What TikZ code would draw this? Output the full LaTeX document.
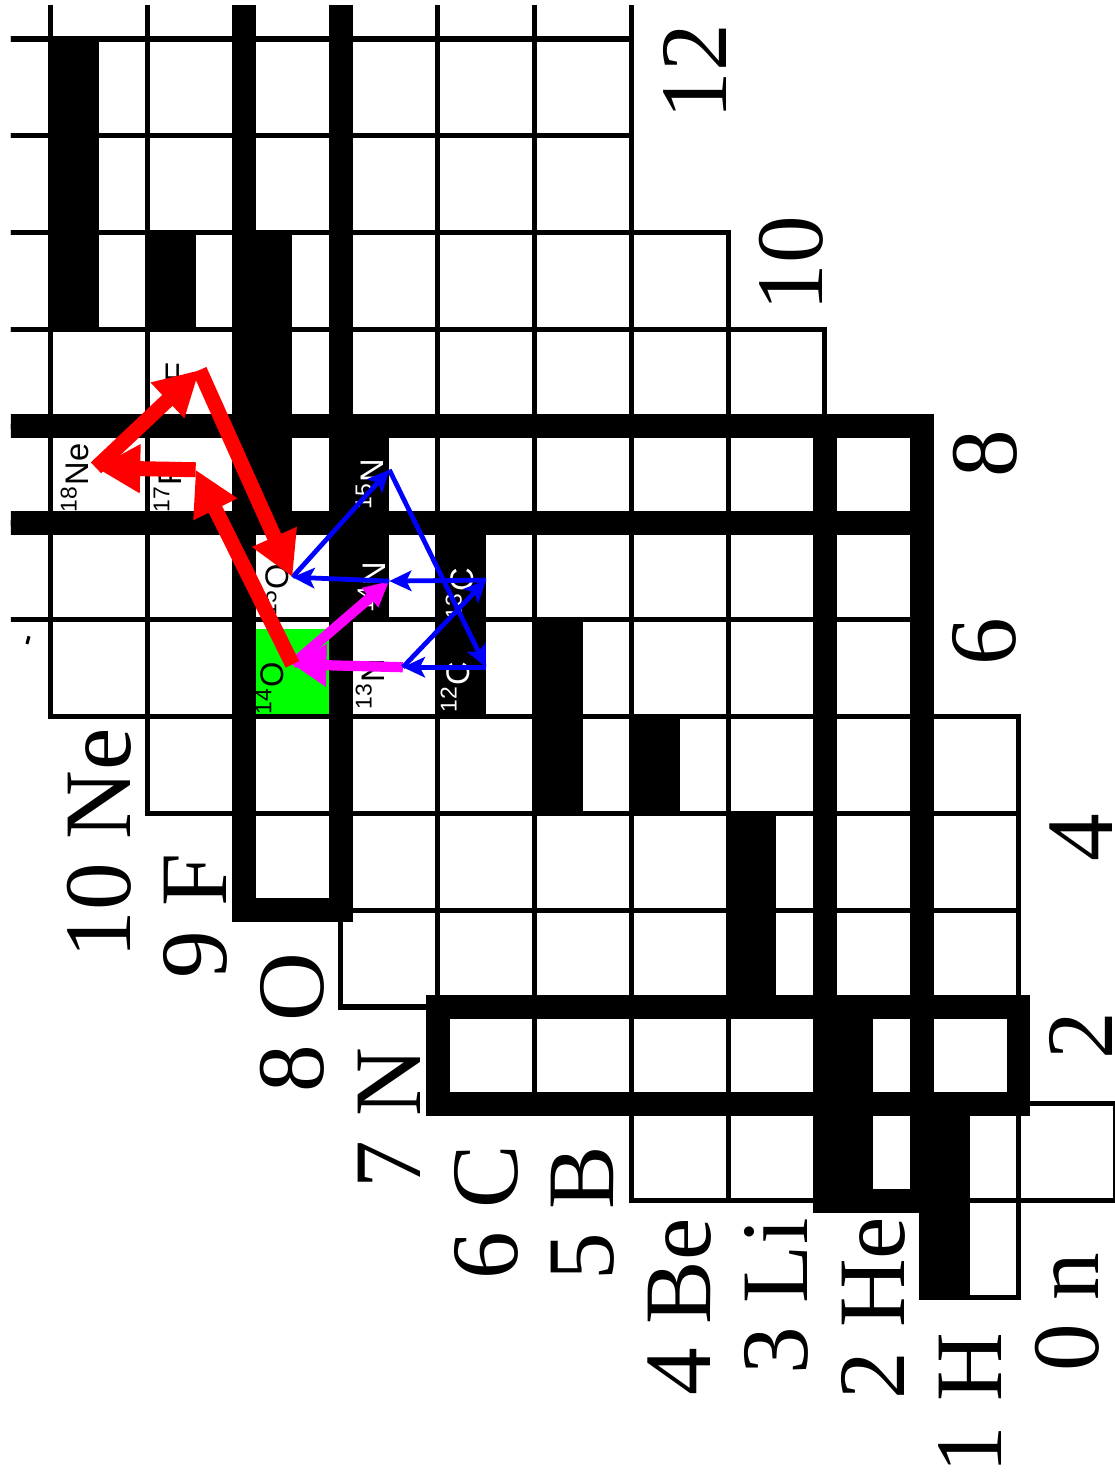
\documentclass[tikz,border=0pt]{standalone}
\usepackage{fontspec}
\setmainfont{Liberation Serif}
\newfontfamily\isofont{Liberation Sans}
\usetikzlibrary{arrows.meta}
\definecolor{cno-red}{RGB}{255,0,0}
\definecolor{cno-blue}{RGB}{0,0,255}
\definecolor{cno-magenta}{RGB}{255,0,255}
\definecolor{cno-green}{RGB}{0,255,0}

\tikzset{
  cellbox/.style={draw=black, line width=1.5pt},
  magicline/.style={draw=black, line width=7pt},
  isolabel/.style={rotate=90, anchor=north west, inner sep=0pt, font=\isofont\fontsize{9.6}{10}\selectfont},
  elemlabel/.style={rotate=90, inner sep=0pt, font=\fontsize{28}{30}\selectfont},
  redarrow/.style={draw=cno-red, line width=4.4pt, -{Triangle[length=13pt,width=13.5pt]}},
  bluearrow/.style={draw=cno-blue, line width=1.4pt, -{Stealth[length=6.5pt,width=6pt,inset=1.5pt]}},
  pinkarrow/.style={draw=cno-magenta, line width=3pt}
}

\begin{document}
\begin{tikzpicture}[x=-1cm, y=1cm]
  \useasboundingbox (11.5217,13.4029) rectangle (0.0031,-1.8864);

  \begin{scope}
    \clip (11.408,13.351) rectangle (-0.5,-1.8);
    % stable nuclides
    \foreach \z/\n in {1/0,1/1,2/1,2/2,3/3,3/4,4/5,5/5,5/6,6/6,6/7,7/7,7/8,8/8,8/9,8/10,9/10,10/10,10/11,10/12,11/12}
      \fill[black] (\z+0.5,\n) rectangle (\z+1,\n+1);
    % 14O
    \fill[cno-green] (8,6) rectangle (9,6.9);
    % cells, row by row
    \foreach \n/\zmin/\zmax in {0/1/1,1/0/4,2/1/6,3/1/7,4/1/8,5/1/9,6/2/10,7/2/11,8/2/11,9/3/11,10/4/11,11/5/11,12/5/11,13/5/11}
      \foreach \z in {\zmin,...,\zmax}
        \draw[cellbox] (\z,\n) rectangle ++(1,1);
    % magic numbers
    \draw[magicline] (9,14) -- (9,4) -- (8,4) -- (8,14);
    \draw[magicline] (2,1) rectangle (3,9);
    \draw[magicline] (1,2) rectangle (7,3);
    \draw[magicline] (2,8) -- (12,8);
    \draw[magicline] (2,9) -- (12,9);
  \end{scope}
  \draw[line width=0.9pt] (11.243,6.75) -- (11.222,6.83);

  % isotope labels
  \node[isolabel, text=white] (lC12) at (6.976,6.037) {\textsuperscript{12}C};
  \node[isolabel, text=white] (lC13) at (6.925,7.0) {\textsuperscript{13}C};
  \node[isolabel] (lN13) at (7.854,6.068) {\textsuperscript{13}N};
  \node[isolabel, text=white] (lN14) at (7.834,7.07) {\textsuperscript{14}N};
  \node[isolabel, text=white] (lN15) at (7.854,8.134) {\textsuperscript{15}N};
  \node[isolabel] (lO14) at (8.888,6.016) {\textsuperscript{14}O};
  \node[isolabel] (lO15) at (8.836,7.029) {\textsuperscript{15}O};
  \node[isolabel] (lF17) at (9.941,8.103) {\textsuperscript{17}F};
  \node[isolabel] (lF18) at (9.869,9.167) {\textsuperscript{18}F};
  \node[isolabel] (lNe18) at (10.902,8.103) {\textsuperscript{18}Ne};

  % element names
  \node[elemlabel] (zNe) at (10.5,4.69) {10 Ne};
  \node[elemlabel] (zF) at (9.5,3.94) {9 F};
  \node[elemlabel] (zO) at (8.5,2.84) {8 O};
  \node[elemlabel] (zN) at (7.5,1.85) {7 N};
  \node[elemlabel] (zC) at (6.5,0.88) {6 C};
  \node[elemlabel] (zB) at (5.5,0.87) {5 B};
  \node[elemlabel] (zBe) at (4.5,-0.10) {4 Be};
  \node[elemlabel] (zLi) at (3.5,0.01) {3 Li};
  \node[elemlabel] (zHe) at (2.5,-0.11) {2 He};
  \node[elemlabel] (zH) at (1.5,-1.09) {1 H};
  \node[elemlabel] (zn) at (0.5,-0.15) {0 n};

  % neutron numbers
  \node[elemlabel] (n12) at (4.34,12.66) {12};
  \node[elemlabel] (n10) at (3.35,10.68) {10};
  \node[elemlabel] (n8) at (1.34,8.72) {8};
  \node[elemlabel] (n6) at (1.35,6.77) {6};
  \node[elemlabel] (n4) at (0.35,4.75) {4};
  \node[elemlabel] (n2) at (0.35,2.70) {2};

  % reaction points
  \coordinate (pO14) at (8.5,6.54);
  \coordinate (pO15) at (8.5,7.44);
  \coordinate (pN13) at (7.36,6.51);
  \coordinate (pN14) at (7.5,7.40);
  \coordinate (pN15) at (7.5,8.55);
  \coordinate (pC12) at (6.5,6.51);
  \coordinate (pC13) at (6.5,7.41);
  \coordinate (pF17) at (9.5,8.55);
  \coordinate (pF18) at (9.46,9.58);
  \coordinate (pNe18) at (10.53,8.57);

  % hot CNO
  \draw[pinkarrow, -{Triangle[length=10pt,width=12pt]}] (pN13) -- (pO14);
  \draw[pinkarrow, -{Triangle[length=7.5pt,width=7pt]}] (pO14) -- (pN14);
  % CNO cycle
  \draw[bluearrow] (pO15) -- (pN15);
  \draw[bluearrow] (pN15) -- (pC12);
  \draw[bluearrow] (pC12) -- (pN13);
  \draw[bluearrow] (pN13) -- (pC13);
  \draw[bluearrow] (pC13) -- (pN14);
  \draw[bluearrow] (pN14) -- (pO15);
  % breakout
  \draw[redarrow] (pO14) -- (pF17);
  \draw[redarrow] (pF17) -- (pNe18);
  \draw[redarrow] (pNe18) -- (pF18);
  \draw[redarrow] (pF18) -- (pO15);
\end{tikzpicture}
\end{document}
